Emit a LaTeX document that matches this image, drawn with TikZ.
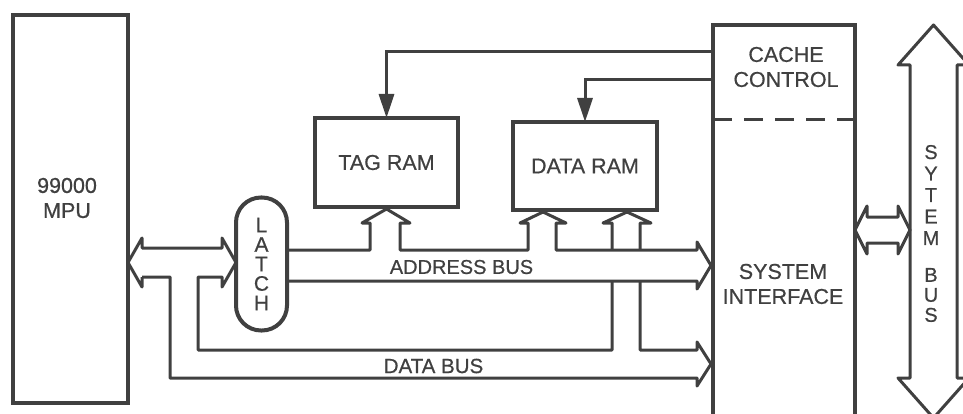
\documentclass[tikz,border=0pt]{standalone}
\usepackage{fontspec}
\setmainfont[FakeBold=0.6]{Liberation Sans}
\usetikzlibrary{arrows.meta}
\definecolor{ink}{HTML}{404040}
\tikzset{box/.style={draw=ink,line width=4pt,inner sep=0pt,outer sep=0pt},
  bus/.style={draw=ink,line width=3pt,line join=round},
  ctl/.style={draw=ink,line width=3pt,-{Triangle[length=24pt,width=15pt]}},
  lbl/.style={text=ink,align=center,font=\fontsize{21.5}{25}\selectfont}}

\begin{document}
\begin{tikzpicture}[x=1pt,y=-1pt]
\useasboundingbox (0,0) rectangle (963,414);
% blocks
\node[box,minimum width=115,minimum height=388] (mpu) at (70.5,209) {};
\node[lbl] (mputxt) at (67,198) {99000\\MPU};
\node[box,rounded corners=25pt,minimum width=51,minimum height=133,lbl,font=\fontsize{21}{19.5}\selectfont] (latch) at (261.5,264) {L\\A\\T\\C\\H};
\node[box,lbl,minimum width=143,minimum height=89] (tag) at (386.5,162.5) {TAG RAM};
\node[box,lbl,minimum width=144,minimum height=88] (data) at (585,166) {DATA RAM};
\node[box,minimum width=142,minimum height=400] (si) at (784,225) {};
\draw[ink,line width=3pt,dash pattern=on 19pt off 12pt] (713,120) -- (855,120);
\node[lbl] (cc) at (786,67) {CACHE\\CONTROL};
\node[lbl] (sit) at (783,284) {SYSTEM\\INTERFACE};
% cache control lines
\coordinate (t1) at (713,52); \coordinate (t2) at (713,80);
\draw[ctl] (t1) -| (tag.north);
\draw[ctl] (t2) -| (data.north);
% mpu <-> latch, data bus
\draw[bus] (142,277) -- (142,287) -- (128,262.5) -- (142,238) -- (142,248) -- (222,248) -- (222,238) -- (236,262.5) -- (222,287) -- (222,277) -- (198,277) -- (198,350) -- (612,350) -- (612,281);
\draw[bus] (142,277) -- (170,277) -- (170,378) -- (697,378) -- (697,386) -- (711,364) -- (697,342) -- (697,350) -- (640,350) -- (640,281);
% address bus
\draw[bus] (287,250) -- (370,250) -- (370,223) -- (362,223) -- (386.5,209) -- (410,223) -- (400,223) -- (400,250) -- (528,250) -- (528,223) -- (520,223) -- (543,212) -- (566,223) -- (556,223) -- (556,250) -- (697,250) -- (697,242) -- (711,265.5) -- (697,289) -- (697,281) -- (287,281);
\draw[bus] (612,250) -- (612,223) -- (603,223) -- (627,212) -- (651,223) -- (640,223) -- (640,250);
\node[lbl,font=\fontsize{20}{24}\selectfont] (ab) at (461.5,267) {ADDRESS BUS};
\node[lbl,font=\fontsize{20.5}{24}\selectfont] (db) at (433.5,366) {DATA BUS};
% system bus
\draw[bus] (867,217) -- (898,217) -- (898,206) -- (910,230) -- (898,254) -- (898,243) -- (867,243) -- (867,254) -- (855,230) -- (867,206) -- cycle;
\draw[bus] (910,65) -- (898,65) -- (933.5,25) -- (969,65) -- (957,65) -- (957,378) -- (969,378) -- (933.5,418) -- (898,378) -- (910,378) -- cycle;
\node[lbl,font=\fontsize{20}{21.5}\selectfont] (sb1) at (931,195) {S\\Y\\T\\E\\M};
\node[lbl,font=\fontsize{20}{20}\selectfont] (sb2) at (931,295) {B\\U\\S};
\end{tikzpicture}
\end{document}
